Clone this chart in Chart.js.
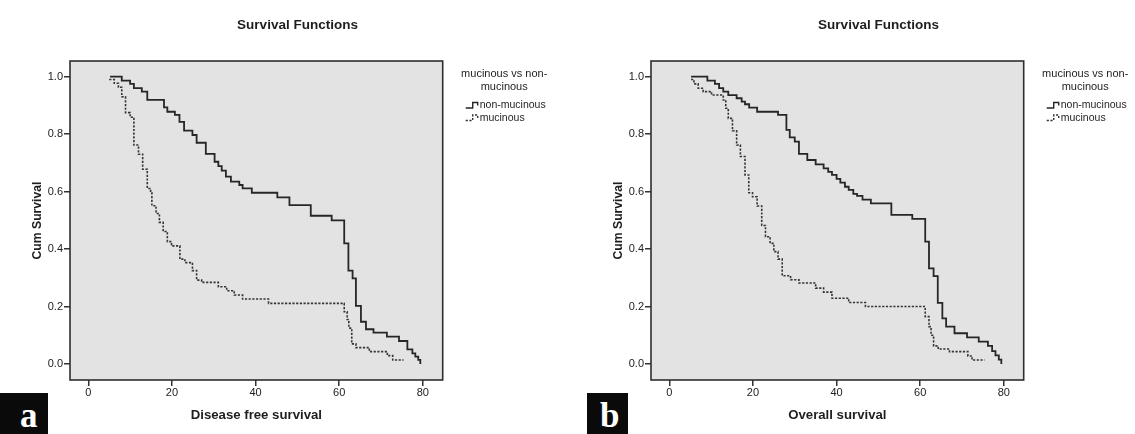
<!DOCTYPE html>
<html>
<head>
<meta charset="utf-8">
<script src="https://cdn.jsdelivr.net/npm/chart.js"></script>
<style>
  body { margin: 0; background: #fff; }
  #wrap { position: relative; width: 1135px; height: 434px; overflow: hidden; }
  #wrap canvas { position: absolute; top: 0; }
  #dfs { left: 0; }
  #os { left: 581px; }
  .tag {
    position: absolute; top: 393px; height: 41px; overflow: hidden;
    background: #0a0a0a; color: #fff;
    font: bold 35px "Liberation Serif", "DejaVu Serif", serif; line-height: 46px;
  }
  #tagA { left: 0; width: 48px; text-indent: 20px; }
  #tagB { left: 587px; width: 41px; text-indent: 13px; }
</style>
</head>
<body>
<div id="wrap">
  <canvas id="dfs" width="595" height="434"></canvas>
  <canvas id="os" width="595" height="434"></canvas>
  <div class="tag" id="tagA">a</div>
  <div class="tag" id="tagB">b</div>
</div>
<script>
/* ========= DATA ========= */
const seriesNames = ["non-mucinous", "mucinous"];
const legendTitle = ["mucinous vs non-", "mucinous"];
const xTicks = [0, 20, 40, 60, 80];
const yTicks = [0, 0.2, 0.4, 0.6, 0.8, 1.0];

// a: disease free survival
const dfsNonMucT = [5.2, 8.0, 10.0, 10.9, 12.8, 14.1, 18.1, 18.9, 20.7, 21.8, 22.9, 24.9, 25.9, 28.1, 30.2, 31.1, 31.9, 32.9, 34.1, 36.1, 36.9, 39.1, 45.2, 48.1, 53.2, 58.2, 61.2, 62.2, 63.2, 64.0, 65.2, 66.4, 68.2, 71.4, 74.3, 76.3, 77.5, 78.2, 78.9, 79.4];
const dfsNonMucS = [1.0, 0.986, 0.975, 0.960, 0.948, 0.919, 0.893, 0.878, 0.867, 0.843, 0.812, 0.797, 0.770, 0.731, 0.704, 0.689, 0.673, 0.652, 0.635, 0.623, 0.611, 0.596, 0.580, 0.553, 0.516, 0.500, 0.420, 0.325, 0.298, 0.202, 0.147, 0.121, 0.109, 0.095, 0.080, 0.051, 0.037, 0.026, 0.014, 0.0];
const dfsMucT = [5.0, 6.2, 7.2, 8.0, 8.9, 10.0, 10.9, 12.0, 13.0, 14.1, 14.9, 15.2, 16.2, 17.0, 17.9, 18.9, 19.9, 21.9, 23.1, 24.9, 25.9, 27.1, 31.1, 33.1, 34.9, 36.9, 43.1, 61.2, 61.9, 62.3, 63.0, 64.0, 67.2, 71.5, 72.8, 75.4];
const dfsMucS = [0.99, 0.977, 0.963, 0.930, 0.875, 0.859, 0.762, 0.730, 0.678, 0.611, 0.596, 0.551, 0.524, 0.493, 0.461, 0.426, 0.411, 0.365, 0.353, 0.325, 0.292, 0.284, 0.269, 0.255, 0.240, 0.226, 0.211, 0.182, 0.155, 0.125, 0.070, 0.057, 0.043, 0.029, 0.014, 0.014];

// b: overall survival
const osNonMucT = [5.2, 9.1, 10.9, 11.9, 12.9, 14.1, 16.1, 17.3, 18.1, 19.1, 21.0, 26.0, 28.0, 28.8, 30.0, 31.0, 33.0, 35.0, 36.9, 38.0, 38.9, 40.0, 40.9, 42.0, 42.9, 44.0, 44.9, 46.2, 48.2, 53.1, 58.1, 61.2, 62.1, 63.2, 64.2, 65.3, 66.2, 68.2, 71.2, 74.0, 76.2, 77.2, 78.0, 78.8, 79.4];
const osNonMucS = [1.0, 0.986, 0.975, 0.960, 0.948, 0.936, 0.925, 0.913, 0.904, 0.892, 0.878, 0.867, 0.815, 0.789, 0.774, 0.731, 0.710, 0.695, 0.681, 0.669, 0.658, 0.644, 0.631, 0.617, 0.606, 0.592, 0.585, 0.572, 0.559, 0.519, 0.505, 0.426, 0.333, 0.306, 0.213, 0.159, 0.130, 0.107, 0.093, 0.078, 0.063, 0.045, 0.030, 0.015, 0.0];
const osMucT = [5.2, 5.9, 6.9, 8.1, 10.1, 12.9, 13.5, 14.1, 15.1, 16.1, 17.0, 18.1, 19.0, 19.9, 21.0, 22.1, 23.0, 24.1, 25.0, 26.0, 27.0, 29.0, 31.0, 35.0, 36.9, 38.9, 42.9, 46.9, 61.2, 62.1, 62.6, 63.2, 64.3, 67.0, 71.4, 72.4, 75.4];
const osMucS = [0.99, 0.975, 0.960, 0.948, 0.936, 0.919, 0.890, 0.855, 0.812, 0.762, 0.722, 0.658, 0.596, 0.582, 0.550, 0.482, 0.443, 0.420, 0.391, 0.365, 0.307, 0.293, 0.282, 0.264, 0.250, 0.229, 0.214, 0.200, 0.165, 0.130, 0.100, 0.063, 0.052, 0.043, 0.028, 0.014, 0.014];

/* ========= PLUGINS ========= */
const plotFrame = {
  id: "plotFrame",
  beforeDatasetsDraw(chart) {
    const a = chart.chartArea, ctx = chart.ctx;
    ctx.save();
    ctx.fillStyle = "#e3e3e3";
    ctx.fillRect(a.left, a.top, a.right - a.left, a.bottom - a.top);
    ctx.restore();
  },
  afterDatasetsDraw(chart) {
    const a = chart.chartArea, ctx = chart.ctx;
    ctx.save();
    ctx.strokeStyle = "#2e2e2e";
    ctx.lineWidth = 1.6;
    ctx.strokeRect(a.left, a.top, a.right - a.left, a.bottom - a.top);
    ctx.restore();
  }
};

// legend at right of the plot, SPSS style (two-line title + step glyphs)
const kmLegend = {
  id: "kmLegend",
  afterDraw(chart, args, opts) {
    const ctx = chart.ctx, x0 = chart.chartArea.right;
    ctx.save();
    ctx.fillStyle = "#1e1e1e";
    ctx.textBaseline = "middle";
    ctx.textAlign = "center";
    ctx.font = "11px 'Liberation Sans', Arial, sans-serif";
    opts.title.forEach((line, i) => ctx.fillText(line, x0 + 61.5, 73.5 + i * 13.3));
    ctx.textAlign = "left";
    ctx.font = "10.5px 'Liberation Sans', Arial, sans-serif";
    chart.data.datasets.forEach((ds, i) => {
      const y = 105.5 + i * 12.5;
      const gx = x0 + 23;
      ctx.strokeStyle = ds.borderColor;
      ctx.lineWidth = 1.4;
      ctx.setLineDash(ds.borderDash || []);
      ctx.beginPath();
      ctx.moveTo(gx, y + 2.5);
      ctx.lineTo(gx + 7, y + 2.5);
      ctx.lineTo(gx + 7, y - 3);
      ctx.lineTo(gx + 12, y - 3);
      ctx.lineTo(gx + 12, y);
      ctx.stroke();
      ctx.setLineDash([]);
      ctx.fillText(ds.label, gx + 14, y);
    });
    ctx.restore();
  }
};

/* ========= CHARTS ========= */
Chart.defaults.font.family = "'Liberation Sans', Arial, sans-serif";
Chart.defaults.color = "#222";

const pts = (t, s) => t.map((v, i) => ({ x: v, y: s[i] }));

function makeChart(id, xTitle, nonT, nonS, mucT, mucS) {
  new Chart(document.getElementById(id), {
    type: "line",
    data: {
      datasets: [
        { label: seriesNames[0], data: pts(nonT, nonS), stepped: true,
          borderColor: "#262626", borderWidth: 1.8, pointRadius: 0, fill: false },
        { label: seriesNames[1], data: pts(mucT, mucS), stepped: true,
          borderColor: "#353535", borderWidth: 1.6, borderDash: [2.2, 1.5], pointRadius: 0, fill: false }
      ]
    },
    options: {
      responsive: false,
      animation: false,
      devicePixelRatio: 1,
      layout: { padding: { left: 29.5, right: 29.5, top: 0, bottom: 0 } },
      plugins: {
        legend: { display: false },
        tooltip: { enabled: false },
        title: {
          display: true,
          text: "Survival Functions",
          color: "#1e1e1e",
          font: { size: 13.5, weight: "bold" },
          padding: { top: 16.9, bottom: 27.9 }
        },
        kmLegend: { title: legendTitle }
      },
      scales: {
        x: {
          type: "linear",
          min: -4.38, max: 84.75,
          afterBuildTicks: s => { s.ticks = xTicks.map(v => ({ value: v })); },
          afterFit: s => { s.height = 54; },
          ticks: { font: { size: 11 }, color: "#222", padding: 0.5, autoSkip: false, maxRotation: 0 },
          grid: { drawOnChartArea: false, drawTicks: true, tickLength: 6, color: "#333", lineWidth: 1.5 },
          border: { display: false },
          title: { display: true, text: xTitle, color: "#1e1e1e",
                   font: { size: 13.2, weight: "bold" }, padding: { top: 0, bottom: 11.2 } }
        },
        y: {
          type: "linear",
          min: -0.0557, max: 1.0546,
          afterBuildTicks: s => { s.ticks = yTicks.map(v => ({ value: v })); },
          afterFit: s => { s.width = 40.5; },
          ticks: { font: { size: 11 }, color: "#222", padding: 1, callback: v => v.toFixed(1) },
          grid: { drawOnChartArea: false, drawTicks: true, tickLength: 6, color: "#333", lineWidth: 1.5 },
          border: { display: false },
          title: { display: true, text: "Cum Survival", color: "#1e1e1e",
                   font: { size: 12.2, weight: "bold" }, padding: { top: 1, bottom: 0 } }
        },
        // empty box on the right that keeps room for the legend
        legendSpace: {
          axis: "y", type: "linear", position: "right", min: 0, max: 1,
          afterFit: s => { s.width = 122.8; },
          ticks: { display: false },
          grid: { display: false },
          border: { display: false }
        }
      }
    },
    plugins: [plotFrame, kmLegend]
  });
}

makeChart("dfs", "Disease free survival", dfsNonMucT, dfsNonMucS, dfsMucT, dfsMucS);
makeChart("os", "Overall survival", osNonMucT, osNonMucS, osMucT, osMucS);
</script>
</body>
</html>
